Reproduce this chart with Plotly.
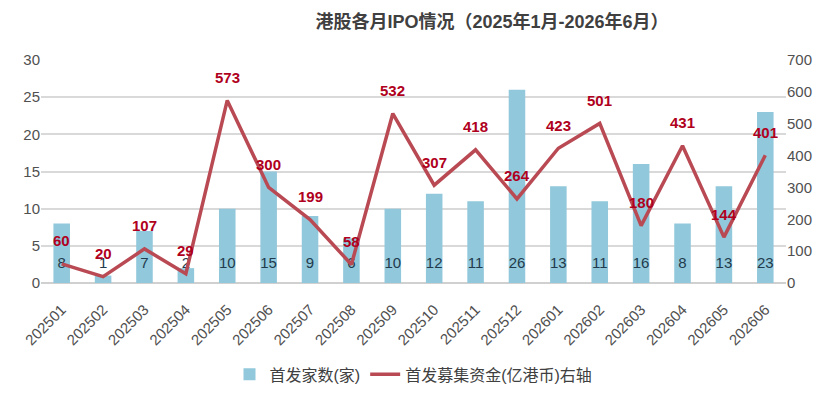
import plotly.graph_objects as go

months = ["202501","202502","202503","202504","202505","202506","202507","202508","202509",
          "202510","202511","202512","202601","202602","202603","202604","202605","202606"]
ipo_count = [8,1,7,2,10,15,9,6,10,12,11,26,13,11,16,8,13,23]
ipo_funds = [60,20,107,29,573,300,199,58,532,307,418,264,423,501,180,431,144,401]
count_label_y = [2.5]*len(months)

font_fam = "Liberation Sans, Arial, Noto Sans CJK SC, sans-serif"

fig = go.Figure()
fig.add_trace(go.Bar(
    x=months, y=ipo_count, name="首发家数(家)",
    marker=dict(color="#92C8DB", line=dict(width=0)),
    width=0.4, yaxis="y", hoverinfo="y",
))
fig.add_trace(go.Scatter(
    x=months, y=count_label_y, mode="text", text=[str(v) for v in ipo_count],
    textfont=dict(size=15, color="#1F3B4D", family=font_fam),
    showlegend=False, yaxis="y", hoverinfo="skip",
))
fig.add_trace(go.Scatter(
    x=months, y=ipo_funds, name="首发募集资金(亿港币)右轴",
    mode="lines", line=dict(color="#B94A54", width=3.5),
    yaxis="y2",
))

annotations = []
for i, v in enumerate(ipo_funds):
    # category axis: position i corresponds to months[i]
    annotations.append(dict(
        x=i, y=v, xref="x", yref="y2", text=str(v), showarrow=False,
        yshift=23, font=dict(size=15, color="#B00020", family=font_fam, weight="bold"),
    ))

fig.update_layout(
    width=831, height=403,
    margin=dict(l=41, r=45, t=60, b=118),
    paper_bgcolor="white", plot_bgcolor="white",
    font=dict(family=font_fam, color="#595959", size=13),
    title=dict(text="<b>港股各月IPO情况（2025年1月-2026年6月）</b>", x=0.592, xanchor="center",
               y=0.945, yanchor="middle", font=dict(size=18, color="#404040")),
    annotations=annotations,
    xaxis=dict(type="category", range=[-0.5, len(months) - 0.5], tickangle=-45,
               showgrid=False, showline=False,
               tickfont=dict(size=15, color="#505050"), ticks="", ticklabelstandoff=14),
    yaxis=dict(range=[0, 30], dtick=5, showgrid=True, gridcolor="#D9D9D9", gridwidth=1.5,
               zeroline=True, zerolinecolor="#D0D0D0", zerolinewidth=2,
               tickfont=dict(size=15, color="#505050"), ticks=""),
    yaxis2=dict(range=[0, 700], dtick=100, overlaying="y", side="right", showgrid=False,
                zeroline=False, tickfont=dict(size=15, color="#505050"), ticks=""),
    legend=dict(orientation="h", x=0.5, xanchor="center", y=-0.41, yanchor="middle",
                font=dict(size=16, color="#404040"), traceorder="normal"),
    showlegend=True,
)

fig.write_html("out.html")
